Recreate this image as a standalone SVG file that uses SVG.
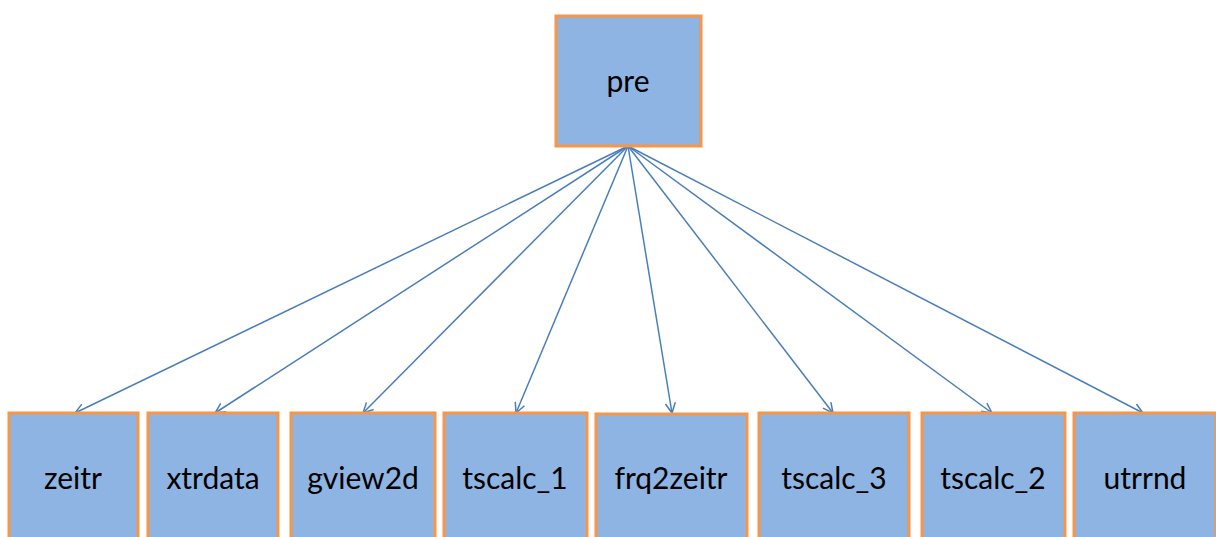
<svg xmlns="http://www.w3.org/2000/svg" width="1216" height="537" viewBox="0 0 1216 537">
<style>
.box{fill:#8eb4e3;stroke:#f79646;stroke-width:3}
.lbl{font-family:Lato,"Open Sans","Liberation Sans",sans-serif;font-size:30px;fill:#000;text-anchor:middle}
.edge{stroke:#4a7ebb;stroke-width:1.5;fill:none;marker-end:url(#arr)}
</style>
<defs>
<marker id="arr" viewBox="0 0 12 12" refX="11" refY="6" markerWidth="12" markerHeight="12" markerUnits="userSpaceOnUse" orient="auto">
<path d="M1,1 L11,6 L1,11" fill="none" stroke="#4a7ebb" stroke-width="1.5"/>
</marker>
</defs>
<rect width="1216" height="537" fill="#fff"/>
<g id="connectors">
<line class="edge" x1="628" y1="146" x2="75" y2="413"/>
<line class="edge" x1="628" y1="146" x2="215" y2="413"/>
<line class="edge" x1="628" y1="146" x2="363" y2="413"/>
<line class="edge" x1="628" y1="146" x2="516" y2="413"/>
<line class="edge" x1="628" y1="146" x2="672" y2="413"/>
<line class="edge" x1="628" y1="146" x2="833" y2="413"/>
<line class="edge" x1="628" y1="146" x2="992" y2="413"/>
<line class="edge" x1="628" y1="146" x2="1143" y2="413"/>
</g>
<g id="pre"><rect class="box" x="556" y="16" width="145" height="130"/><text class="lbl" x="628" y="92">pre</text></g>
<g id="zeitr"><rect class="box" x="9" y="413" width="129" height="140"/><text class="lbl" x="73" y="489">zeitr</text></g>
<g id="xtrdata"><rect class="box" x="148" y="413" width="130" height="140"/><text class="lbl" x="213" y="489">xtrdata</text></g>
<g id="gview2d"><rect class="box" x="291" y="413" width="144" height="140"/><text class="lbl" x="363" y="489">gview2d</text></g>
<g id="tscalc_1"><rect class="box" x="444" y="413" width="143" height="140"/><text class="lbl" x="515" y="489">tscalc_1</text></g>
<g id="frq2zeitr"><rect class="box" x="596" y="414" width="151" height="140"/><text class="lbl" x="671" y="489">frq2zeitr</text></g>
<g id="tscalc_3"><rect class="box" x="759" y="413" width="150" height="140"/><text class="lbl" x="834" y="489">tscalc_3</text></g>
<g id="tscalc_2"><rect class="box" x="922" y="413" width="143" height="140"/><text class="lbl" x="993" y="489">tscalc_2</text></g>
<g id="utrrnd"><rect class="box" x="1074" y="413" width="142" height="140"/><text class="lbl" x="1145" y="489">utrrnd</text></g>
</svg>
